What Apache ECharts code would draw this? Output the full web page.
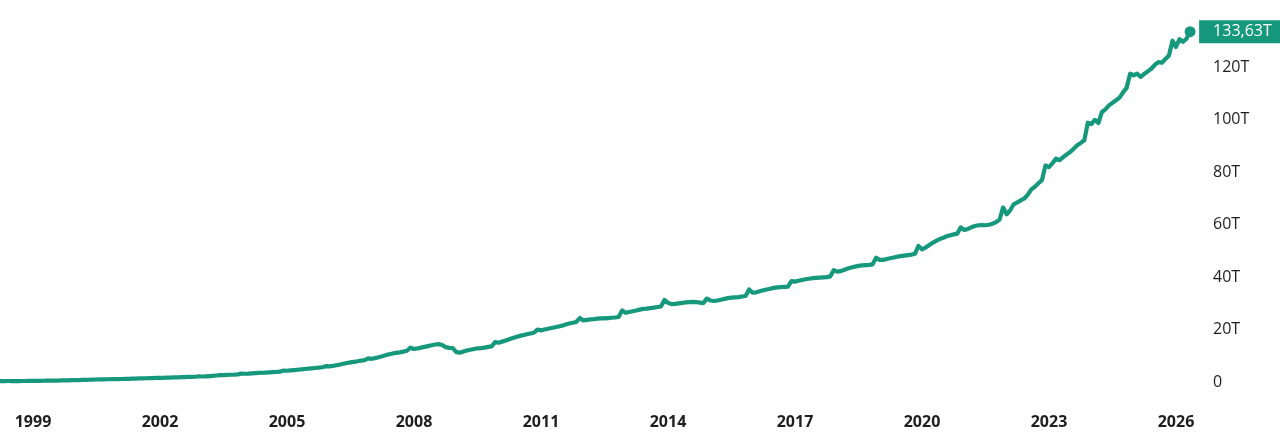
<!DOCTYPE html>
<html>
<head>
<meta charset="utf-8">
<script src="https://cdn.jsdelivr.net/npm/echarts@6/dist/echarts.min.js"></script>
<style>
html,body{margin:0;padding:0;background:#fff;}
#chart{width:1280px;height:447px;}
</style>
</head>
<body>
<div id="chart"></div>
<script>
// Monthly values (trillions), one array per year. 1998 starts in March.
const y1998 = [0.37,0.37,0.37,0.38,0.37,0.36,0.37,0.38,0.40,0.45];
const y1999 = [0.44,0.45,0.46,0.48,0.50,0.52,0.54,0.56,0.59,0.61,0.64,0.71];
const y2000 = [0.70,0.73,0.78,0.82,0.86,0.92,0.96,0.99,1.02,1.05,1.08,1.15];
const y2001 = [1.12,1.15,1.18,1.22,1.26,1.31,1.35,1.39,1.43,1.46,1.50,1.61];
const y2002 = [1.57,1.61,1.65,1.70,1.74,1.80,1.84,1.88,1.92,1.96,2.00,2.13];
const y2003 = [2.10,2.17,2.26,2.37,2.49,2.62,2.65,2.71,2.76,2.80,2.90,3.21];
const y2004 = [3.15,3.22,3.32,3.40,3.45,3.52,3.60,3.67,3.75,3.82,3.95,4.36];
const y2005 = [4.30,4.42,4.55,4.68,4.80,4.95,5.10,5.22,5.35,5.50,5.62,6.03];
const y2006 = [5.95,6.15,6.40,6.65,6.95,7.25,7.50,7.70,7.90,8.15,8.35,9.00];
const y2007 = [8.85,9.10,9.45,9.80,10.25,10.60,10.90,11.10,11.30,11.60,11.90,13.10];
const y2008 = [12.60,12.80,13.10,13.40,13.70,14.00,14.30,14.45,14.10,13.30,13.00,12.90];
const y2009 = [11.40,11.20,11.60,12.00,12.30,12.60,12.80,12.90,13.10,13.40,13.60,15.20];
const y2010 = [15.00,15.40,15.80,16.30,16.80,17.20,17.60,17.90,18.20,18.50,18.80,20.00];
const y2011 = [19.70,20.00,20.30,20.60,20.90,21.20,21.50,21.90,22.30,22.60,22.90,24.40];
const y2012 = [23.50,23.70,23.90,24.00,24.20,24.30,24.30,24.40,24.50,24.60,24.80,27.30];
const y2013 = [26.40,26.70,27.00,27.30,27.60,27.90,28.00,28.20,28.40,28.60,28.80,31.30];
const y2014 = [30.20,29.70,29.80,30.00,30.20,30.40,30.50,30.60,30.50,30.30,30.10,31.80];
const y2015 = [31.10,30.90,31.10,31.40,31.70,32.00,32.20,32.30,32.40,32.60,32.80,35.30];
const y2016 = [34.10,34.20,34.60,35.00,35.30,35.60,35.90,36.10,36.20,36.30,36.40,38.50];
const y2017 = [38.30,38.60,38.90,39.20,39.40,39.60,39.70,39.80,39.90,40.00,40.30,42.70];
const y2018 = [42.10,42.30,42.80,43.30,43.70,44.00,44.30,44.50,44.60,44.70,44.90,47.40];
const y2019 = [46.60,46.60,46.90,47.20,47.50,47.80,48.00,48.20,48.40,48.60,48.90,51.90];
const y2020 = [50.60,51.30,52.20,53.10,53.80,54.50,55.00,55.60,56.00,56.30,56.60,59.00];
const y2021 = [58.00,58.40,59.00,59.50,59.80,59.90,59.80,60.00,60.40,61.00,62.00,66.60];
const y2022 = [64.00,65.50,67.80,68.50,69.30,70.00,71.50,73.50,74.50,75.80,77.00,82.60];
const y2023 = [82.00,83.50,85.20,84.60,85.80,86.80,87.70,89.00,90.30,91.20,92.20,98.90];
const y2024 = [98.40,100.00,98.80,103.00,104.00,105.50,106.50,107.50,108.50,110.50,112.20,117.60];
const y2025 = [117.00,117.60,116.40,117.50,118.50,119.50,121.00,122.00,121.80,123.20,124.50,130.20];
const y2026 = [127.80,130.80,129.80,131.00,133.63];

const firstYear = 1998;
const firstMonth = 3;
const yearBlocks = [y1998,y1999,y2000,y2001,y2002,y2003,y2004,y2005,y2006,y2007,y2008,y2009,y2010,
  y2011,y2012,y2013,y2014,y2015,y2016,y2017,y2018,y2019,y2020,y2021,y2022,y2023,y2024,y2025,y2026];

const xTickYears = [1999,2002,2005,2008,2011,2014,2017,2020,2023,2026];
const yTickValues = [0,20,40,60,80,100,120];

// Build the series: x = decimal year of the month start
const points = [];
yearBlocks.forEach((arr, i) => {
  const yr = firstYear + i;
  const m0 = i === 0 ? firstMonth - 1 : 0;
  arr.forEach((v, j) => points.push([yr + (m0 + j) / 12, v]));
});
const lastIdx = points.length - 1;
const lastVal = points[lastIdx][1];

const color = '#16987c';
const font = '"Open Sans", "DejaVu Sans", sans-serif';
const chart = echarts.init(document.getElementById('chart'), null, {renderer: 'canvas'});
chart.setOption({
  animation: false,
  backgroundColor: '#ffffff',
  grid: {left: 0, right: 85, top: 15, bottom: 65, containLabel: false},
  xAxis: {
    type: 'value',
    min: 1998.2205,
    max: 2026.449,
    axisLine: {show: false},
    axisTick: {show: false},
    splitLine: {show: false},
    axisLabel: {
      customValues: xTickYears,
      formatter: v => String(Math.round(v)),
      fontFamily: font, fontSize: 16, fontWeight: 'bold', color: '#1e1e1e',
      margin: 32
    }
  },
  yAxis: {
    type: 'value',
    position: 'right',
    min: 0, max: 140, interval: 20,
    axisLine: {show: false},
    axisTick: {show: false},
    splitLine: {show: false},
    axisLabel: {
      customValues: yTickValues,
      formatter: v => v === 0 ? '0' : v + 'T',
      fontFamily: font, fontSize: 16, color: '#1e1e1e',
      margin: 18, align: 'left'
    }
  },
  series: [{
    type: 'line',
    data: points,
    showSymbol: true,
    showAllSymbol: true,
    symbol: 'circle',
    symbolSize: (val, params) => params.dataIndex === lastIdx ? 11 : 0,
    itemStyle: {color: color},
    lineStyle: {color: color, width: 4.2, cap: 'round', join: 'round'},
    clip: true,
    endLabel: {
      show: true,
      formatter: () => lastVal.toFixed(2).replace('.', ',') + 'T',
      color: '#ffffff',
      backgroundColor: color,
      fontFamily: font, fontSize: 16, lineHeight: 16,
      padding: [4, 14, 3, 14],
      distance: 9
    },
    silent: true
  }]
});
</script>
</body>
</html>
